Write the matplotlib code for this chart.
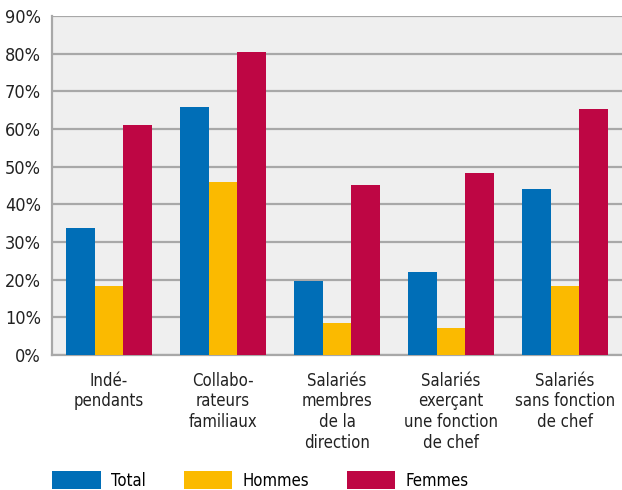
import matplotlib
matplotlib.use('Agg')
import matplotlib.pyplot as plt
import numpy as np

categories = ['Indé-\npendants', 'Collabo-\nrateurs\nfamiliaux', 'Salariés\nmembres\nde la\ndirection',
              'Salariés\nexerçant\nune fonction\nde chef', 'Salariés\nsans fonction\nde chef']
total = [33.7, 65.8, 19.6, 22.0, 44.1]
hommes = [18.3, 45.9, 8.5, 7.2, 18.3]
femmes = [61.0, 80.4, 45.1, 48.3, 65.3]
yticks = [0, 10, 20, 30, 40, 50, 60, 70, 80, 90]

plt.rcParams['font.family'] = ['DejaVu Sans']
plt.rcParams['font.stretch'] = 'condensed'
plt.rcParams['font.size'] = 12

fig = plt.figure(figsize=(6.22, 4.9), dpi=100)
ax = fig.add_axes([0.0836, 0.2755, 0.9164, 0.6915])
ax.set_facecolor('#efefef')

x = np.arange(len(categories))
w = 0.254
b1 = ax.bar(x - w, total, w, color='#006eb7', label='Total', zorder=3)
b2 = ax.bar(x, hommes, w, color='#fbba00', label='Hommes', zorder=3)
b3 = ax.bar(x + w, femmes, w, color='#be0644', label='Femmes', zorder=3)

ax.set_xlim(-0.5, 4.5)
ax.set_ylim(0, 90)
ax.set_yticks(yticks)
ax.set_yticklabels([f'{t}%' for t in yticks])
ax.set_xticks(x)
ax.set_xticklabels(categories, linespacing=1.2, va='top')
ax.tick_params(axis='y', length=0, pad=8, labelcolor='#222222', labelsize=13)
ax.tick_params(axis='x', length=0, pad=12, labelcolor='#222222')
ax.grid(axis='y', color='#a8a8a8', linewidth=1.6, zorder=1)
ax.set_axisbelow(True)
for s in ['top', 'right']:
    ax.spines[s].set_visible(False)
for s in ['left', 'bottom']:
    ax.spines[s].set_color('#a8a8a8')
    ax.spines[s].set_linewidth(1.6)

fig.legend(handles=[b1, b2, b3], loc='lower left', bbox_to_anchor=(0.06, -0.03), ncol=3,
           frameon=False, handlelength=2.9, handleheight=1.3, handletextpad=0.6,
           columnspacing=2.3, fontsize=12)

plt.savefig('out.png', dpi=100)
